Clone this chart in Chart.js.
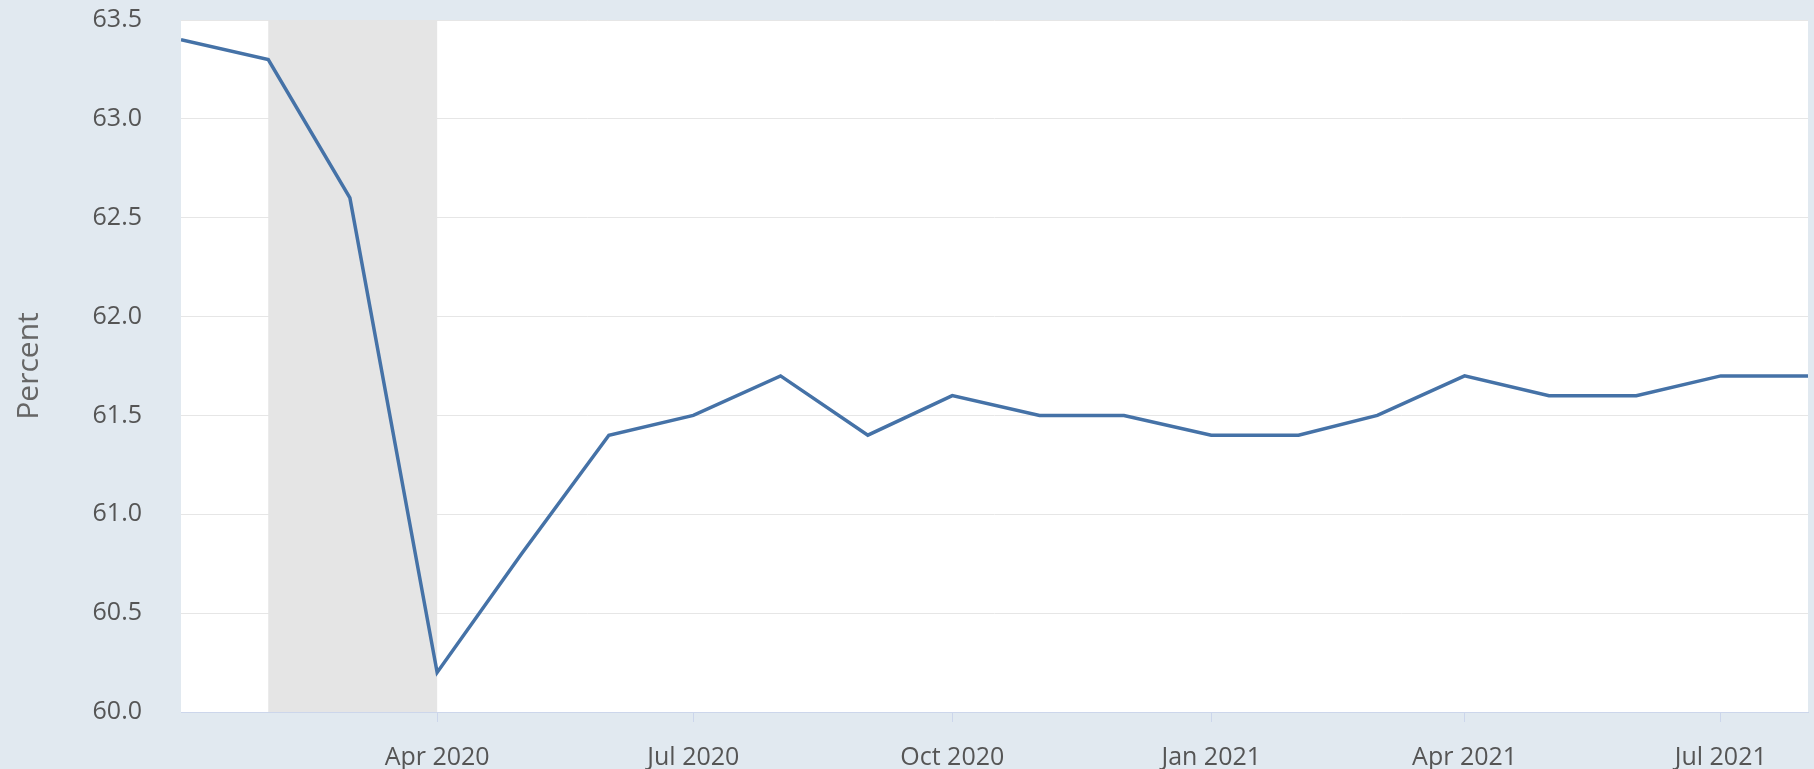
<!DOCTYPE html>
<html>
<head>
<meta charset="utf-8">
<script src="https://cdn.jsdelivr.net/npm/chart.js@4/dist/chart.umd.min.js"></script>
<style>
  html, body { margin: 0; padding: 0; background: #e1e9f0; }
  #wrap { width: 1814px; height: 769px; position: relative; }
</style>
</head>
<body>
<div id="wrap"><canvas id="c"></canvas></div>
<script>
// ---- data ----
const months = ['2020-01','2020-02','2020-03','2020-04','2020-05','2020-06','2020-07','2020-08','2020-09','2020-10','2020-11','2020-12',
                '2021-01','2021-02','2021-03','2021-04','2021-05','2021-06','2021-07','2021-08'];
const values = [63.4,63.3,62.6,60.2,60.8,61.4,61.5,61.7,61.4,61.6,61.5,61.5,
                61.4,61.4,61.5,61.7,61.6,61.6,61.7,61.7];
const tickMonths = ['2020-04','2020-07','2020-10','2021-01','2021-04','2021-07'];
const tickLabels = ['Apr 2020','Jul 2020','Oct 2020','Jan 2021','Apr 2021','Jul 2021'];
const recession = ['2020-02','2020-04'];
const axisStart = '2020-01';
const axisEnd = '2021-08';
const yTitle = 'Percent';

// month string -> day offset from axis start
function dayOf(m) {
  const [y, mo] = m.split('-').map(Number);
  const [y0, m0] = axisStart.split('-').map(Number);
  return (Date.UTC(y, mo - 1, 1) - Date.UTC(y0, m0 - 1, 1)) / 86400000;
}

const points = months.map((m, i) => ({ x: dayOf(m), y: values[i] }));

const bgPlugin = {
  id: 'bg',
  beforeDraw(chart) {
    const { ctx, chartArea: a } = chart;
    ctx.save();
    ctx.fillStyle = '#e1e9f0';
    ctx.fillRect(0, 0, chart.width, chart.height);
    ctx.fillStyle = '#ffffff';
    ctx.fillRect(a.left, a.top, a.right - a.left, a.bottom - a.top);
    ctx.restore();
  },
  beforeDatasetsDraw(chart) {
    const { ctx, chartArea: a, scales: { x } } = chart;
    const x0 = x.getPixelForValue(dayOf(recession[0]));
    const x1 = x.getPixelForValue(dayOf(recession[1]));
    ctx.save();
    ctx.fillStyle = '#e5e5e5';
    ctx.fillRect(x0, a.top, x1 - x0, a.bottom - a.top);
    ctx.restore();
  }
};

const tickFont = { family: "'Open Sans', sans-serif", size: 25 };

new Chart(document.getElementById('c'), {
  type: 'line',
  data: {
    datasets: [{
      data: points,
      borderColor: '#4572a7',
      borderWidth: 3.5,
      pointRadius: 0,
      tension: 0,
      fill: false
    }]
  },
  options: {
    responsive: true,
    maintainAspectRatio: false,
    animation: false,
    layout: { padding: { top: 20, right: 6, left: 0, bottom: 0 } },
    plugins: { legend: { display: false }, tooltip: { enabled: false } },
    scales: {
      x: {
        type: 'linear',
        min: dayOf(axisStart),
        max: dayOf(axisEnd),
        afterBuildTicks(s) { s.ticks = tickMonths.map(m => ({ value: dayOf(m) })); },
        afterFit(s) { s.height = 57; s.paddingLeft = 0; s.paddingRight = 0; },
        ticks: {
          autoSkip: false,
          maxRotation: 0,
          padding: 21,
          color: '#555555',
          font: tickFont,
          callback(v) { const i = tickMonths.findIndex(m => dayOf(m) === v); return i >= 0 ? tickLabels[i] : ''; }
        },
        grid: { drawOnChartArea: false, drawTicks: true, tickLength: 10, color: '#ccd6eb' },
        border: { color: '#ccd6eb', width: 1 }
      },
      y: {
        min: 60,
        max: 63.5,
        afterFit(s) { s.width = 181; s.paddingTop = 0; s.paddingBottom = 0; },
        ticks: {
          stepSize: 0.5,
          padding: 39,
          color: '#555555',
          font: tickFont,
          callback(v) { return Number(v).toFixed(1); }
        },
        grid: { color: '#e6e6e6', drawTicks: false },
        border: { display: false },
        title: {
          display: true,
          text: yTitle,
          color: '#666666',
          font: { family: "'Open Sans', sans-serif", size: 30 },
          padding: { top: 11, bottom: 0 }
        }
      }
    }
  },
  plugins: [bgPlugin]
});
</script>
</body>
</html>
